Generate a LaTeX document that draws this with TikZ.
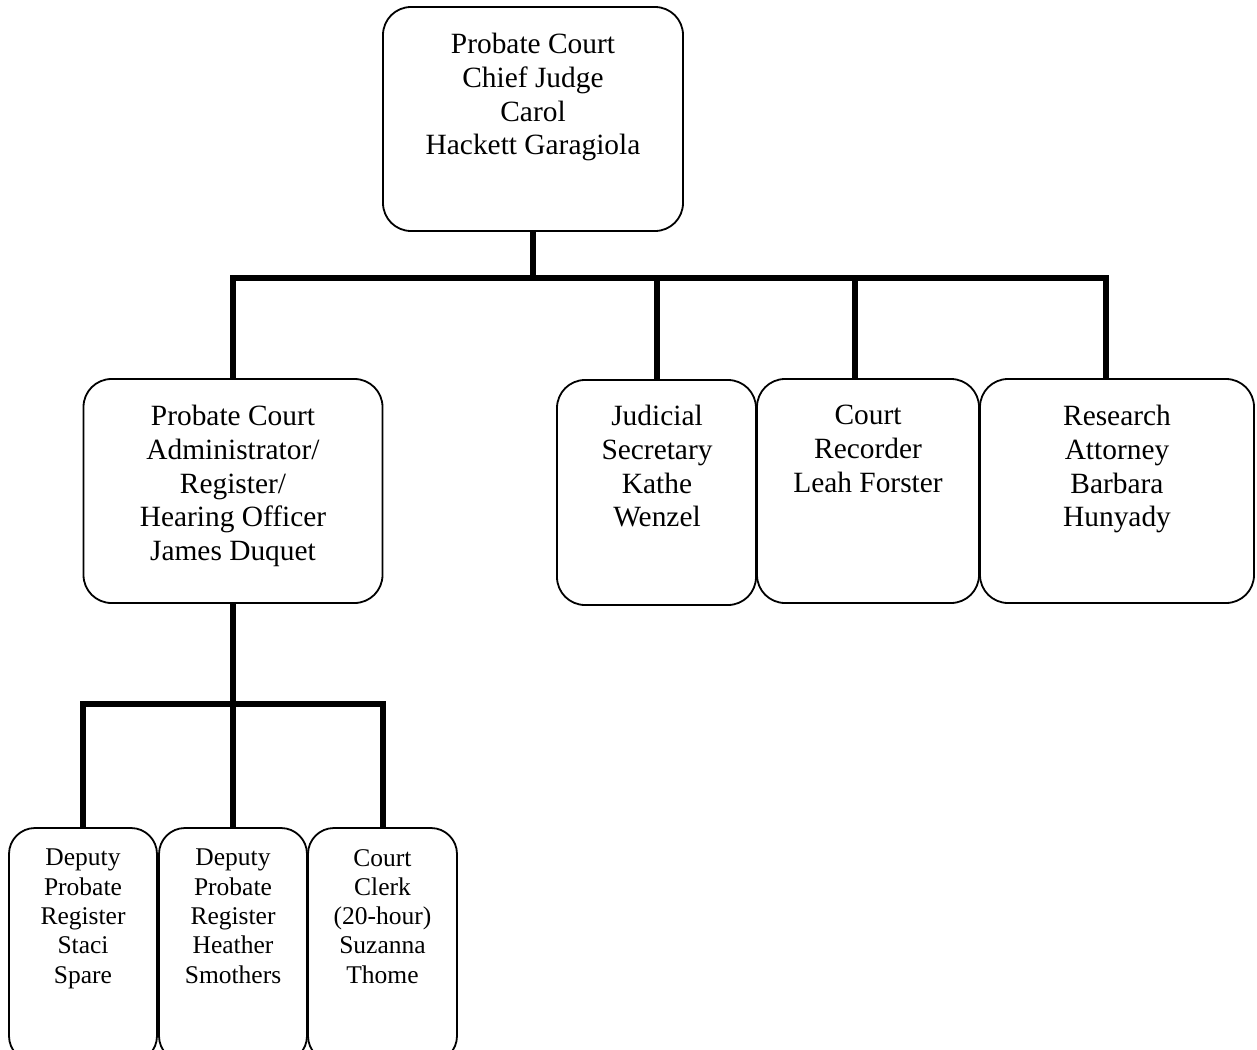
\documentclass[tikz,border=0pt]{standalone}
\usepackage{fontspec}
\setmainfont{Liberation Serif}
\begin{document}
\begin{tikzpicture}[x=1pt,y=-1pt,
  box/.style={draw, line width=1.8pt, rounded corners=28pt, fill=white, inner sep=0pt},
  conn/.style={line width=6pt, line join=miter},
  big/.style={align=center, inner sep=0pt, anchor=north, font=\fontsize{29.4}{33.7}\selectfont},
  small/.style={align=center, inner sep=0pt, anchor=north, font=\fontsize{25.5}{29.3}\selectfont}]
\useasboundingbox (0,0) rectangle (1257,1049);

% boxes
\node[box, minimum width=300pt, minimum height=224pt] (chief) at (533,119) {};
\node[box, minimum width=299pt, minimum height=224pt] (admin) at (233,491) {};
\node[box, minimum width=199pt, minimum height=225pt] (judicial) at (656.5,492.5) {};
\node[box, minimum width=222pt, minimum height=224pt] (court) at (868,491) {};
\node[box, minimum width=274pt, minimum height=224pt] (research) at (1117,491) {};
\node[box, rounded corners=26pt, minimum width=148pt, minimum height=234pt] (dep1) at (83,945) {};
\node[box, rounded corners=26pt, minimum width=148pt, minimum height=234pt] (dep2) at (233,945) {};
\node[box, rounded corners=26pt, minimum width=149pt, minimum height=234pt] (clerk) at (382.5,945) {};

% texts
\node[big] (chieft) at (533,33) {Probate Court\\Chief Judge\\Carol\\Hackett Garagiola};
\node[big] (admint) at (233,405) {Probate Court\\Administrator/\\Register/\\Hearing Officer\\James Duquet};
\node[big] (judicialt) at (657,405) {Judicial\\Secretary\\Kathe\\Wenzel};
\node[big] (courtt) at (868,405) {Court\\Recorder\\Leah Forster};
\node[big] (researcht) at (1117,405) {Research\\Attorney\\Barbara\\Hunyady};
\node[small] (dep1t) at (83,849) {Deputy\\Probate\\Register\\Staci\\Spare};
\node[small] (dep2t) at (233,849) {Deputy\\Probate\\Register\\Heather\\Smothers};
\node[small] (clerkt) at (382.5,849) {Court\\Clerk\\(20-hour)\\Suzanna\\Thome};

% connectors
\coordinate (bus1) at (533,278);
\coordinate (courtdrop) at ([xshift=-13pt]court.north);
\coordinate (researchdrop) at ([xshift=-11pt]research.north);
\draw[conn] (chief.south) -- (bus1);
\draw[conn] (admin.north) -- (admin.north |- bus1) -- (researchdrop |- bus1) -- (researchdrop);
\draw[conn] (judicial.north) -- (judicial.north |- bus1);
\draw[conn] (courtdrop) -- (courtdrop |- bus1);

\coordinate (bus2) at (233,704);
\draw[conn] (admin.south) -- (bus2);
\draw[conn] (dep1.north) -- (dep1.north |- bus2) -- (clerk.north |- bus2) -- (clerk.north);
\draw[conn] (dep2.north) -- (dep2.north |- bus2);
\end{tikzpicture}
\end{document}
